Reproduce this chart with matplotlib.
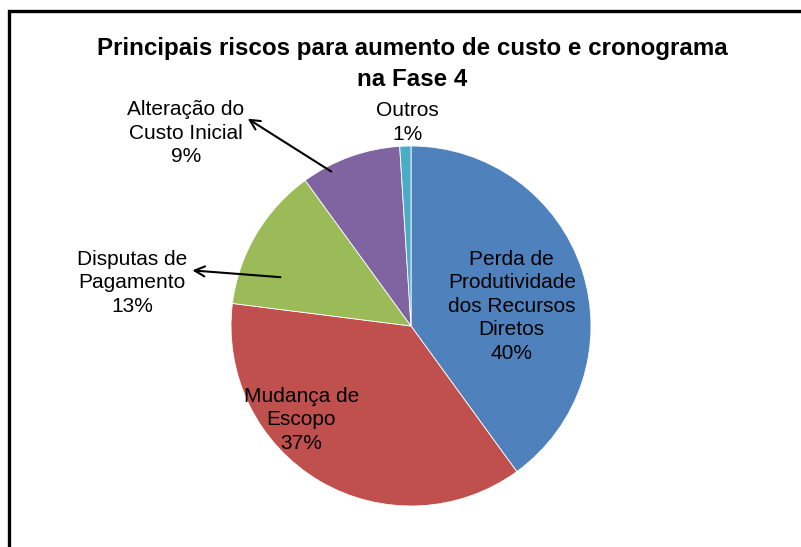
import matplotlib
matplotlib.use("Agg")
import matplotlib.pyplot as plt
from matplotlib.patches import Rectangle

categories = ["Perda de\nProdutividade\ndos Recursos\nDiretos", "Mudança de\nEscopo",
              "Disputas de\nPagamento", "Alteração do\nCusto Inicial", "Outros"]
values = [40, 37, 13, 9, 1]
colors = ["#4F81BD", "#C0504D", "#9BBB59", "#8064A2", "#4BACC6"]
title = "Principais riscos para aumento de custo e cronograma\nna Fase 4"

W, H = 801, 547
fig = plt.figure(figsize=(W / 100, H / 100), dpi=100)
fig.patch.set_facecolor("white")

# chart frame (clipped at right/bottom)
fig.add_artist(Rectangle((9 / W, -0.1), 1.2, (H - 11) / H + 0.1, transform=fig.transFigure,
                         fill=False, edgecolor="black", linewidth=2.4))

cx, cy, R = 411, 326, 180
ax = fig.add_axes([(cx - R) / W, (H - cy - R) / H, 2 * R / W, 2 * R / H])
ax.pie(values, colors=colors, startangle=90, counterclock=False, radius=1,
       wedgeprops=dict(edgecolor="white", linewidth=0.6))
ax.set_xlim(-1, 1)
ax.set_ylim(-1, 1)
ax.set_aspect("equal")
ax.axis("off")

lf = dict(fontsize=15, family="Liberation Sans", ha="center", va="center",
          linespacing=1.3, color="black")

def lab(i):
    return f"{categories[i]}\n{values[i]}%"

# inside labels
ax.text(0.56, 0.11, lab(0), **lf)
ax.text(-0.61, -0.52, lab(1), **lf)
# outside labels with arrows
ax.text(-1.55, 0.24, lab(2), clip_on=False, **lf)
ax.annotate("", xy=(-1.23, 0.31), xytext=(-0.71, 0.27),
            arrowprops=dict(arrowstyle="->", color="black", lw=1.5, mutation_scale=18),
            annotation_clip=False)
ax.text(-1.25, 1.07, lab(3), clip_on=False, **lf)
ax.annotate("", xy=(-0.92, 1.16), xytext=(-0.43, 0.85),
            arrowprops=dict(arrowstyle="->", color="black", lw=1.5, mutation_scale=18),
            annotation_clip=False)
ax.text(-0.02, 1.13, lab(4), clip_on=False, **lf)

fig.text(412 / W, 1 - 64 / H, title, ha="center", va="center", fontsize=17.4,
         fontweight="bold", family="Liberation Sans", linespacing=1.5)

fig.savefig("out.png", dpi=100, facecolor="white")
